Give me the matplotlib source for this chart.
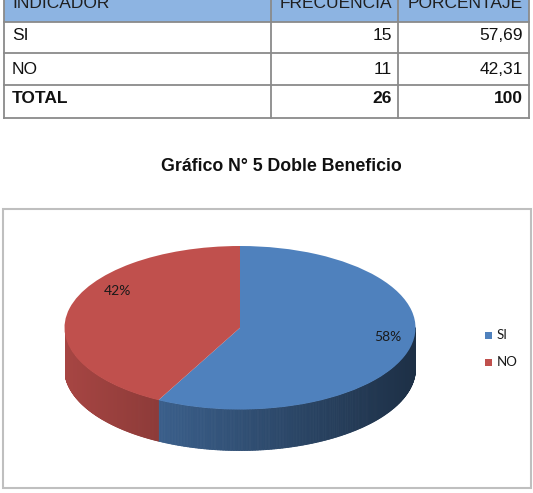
import numpy as np
import matplotlib
matplotlib.use("Agg")
import matplotlib.pyplot as plt
from matplotlib.patches import Rectangle
from matplotlib.collections import PolyCollection

# ---------------- data ----------------
headers = ["INDICADOR", "FRECUENCIA", "PORCENTAJE"]
categories = ["SI", "NO"]
frequencies = [15, 11]
percentages = ["57,69", "42,31"]
total_label = "TOTAL"
total_freq = 26
total_pct = "100"
title = "Gráfico N° 5 Doble Beneficio"
colors = ["#4F81BD", "#C0504D"]

W, H = 533, 493
fig = plt.figure(figsize=(W / 100, H / 100), dpi=100)
ax = fig.add_axes([0, 0, 1, 1])
ax.set_xlim(0, W)
ax.set_ylim(H, 0)
ax.axis("off")

# ---------------- table ----------------
tfont = ["Liberation Sans", "DejaVu Sans"]
border = "#8a8a8a"
col_x = [4, 271, 398, 529]
row_y = [-12, 22, 53, 85, 118]
ax.add_patch(Rectangle((col_x[0], row_y[0]), col_x[3] - col_x[0], row_y[1] - row_y[0],
                       facecolor="#8DB4E2", edgecolor="none", zorder=1))
for x in col_x:
    ax.plot([x, x], [row_y[0], row_y[-1]], color=border, lw=1.3, zorder=2)
for y in row_y[1:]:
    ax.plot([col_x[0], col_x[-1]], [y, y], color=border, lw=1.3, zorder=2)

fs = 12.5
baselines = [7.5, 40, 73.5, 103]
rows = [headers] + [[c, str(f), p] for c, f, p in zip(categories, frequencies, percentages)] \
       + [[total_label, str(total_freq), total_pct]]
for r, (row, yb) in enumerate(zip(rows, baselines)):
    bold = (r == len(rows) - 1)
    col = "#1f1f1f" if r == 0 else "#111111"
    ax.text(12, yb, row[0], ha="left", va="baseline", fontsize=fs, family=tfont,
            fontweight="bold" if bold else "normal", color=col)
    ax.text(392, yb, row[1], ha="right", va="baseline", fontsize=fs, family=tfont,
            fontweight="bold" if bold else "normal", color=col)
    ax.text(523, yb, row[2], ha="right", va="baseline", fontsize=fs, family=tfont,
            fontweight="bold" if bold else "normal", color=col)

# ---------------- title ----------------
ax.text(281, 171, title, ha="center", va="baseline", fontsize=12.8, fontweight="bold",
        family=tfont, color="#111111")

# ---------------- chart box ----------------
ax.add_patch(Rectangle((3, 209), 528, 279, facecolor="none", edgecolor="#BFBFBF", lw=1.5, zorder=1))

# ---------------- 3D pie ----------------
pl, pr, pt, pb = 64.5, 415.5, 246, 450.5
depth_px = 41
b_px = (pb - pt - depth_px) / 2
d = depth_px / b_px
pax = fig.add_axes([pl / W, 1 - pb / H, (pr - pl) / W, (pb - pt) / H])
wedges, _ = pax.pie(frequencies, colors=colors, startangle=90, counterclock=False,
                    radius=1, wedgeprops=dict(linewidth=0, zorder=5))
pax.set_aspect("auto")
pax.set_xlim(-1, 1)
pax.set_ylim(-1 - d, 1)
pax.axis("off")


def shade(c, cosv):
    rgb = np.array(matplotlib.colors.to_rgb(c))
    f = 0.87 - 0.25 * (cosv + 1)
    return tuple(np.clip(rgb * f, 0, 1))


for w, c in zip(wedges, colors):
    t = np.radians(np.linspace(w.theta1, w.theta2, 400))
    polys, cols = [], []
    for t0, t1 in zip(t[:-1], t[1:]):
        tm = 0.5 * (t0 + t1)
        if np.sin(tm) >= 0:
            continue
        polys.append([(np.cos(t0), np.sin(t0)), (np.cos(t1), np.sin(t1)),
                      (np.cos(t1), np.sin(t1) - d), (np.cos(t0), np.sin(t0) - d)])
        cols.append(shade(c, np.cos(tm)))
    if polys:
        pc = PolyCollection(polys, facecolors=cols, edgecolors=cols, linewidths=0.6, zorder=3)
        pax.add_collection(pc)

# percentage labels (drawn on the pie axes so they sit above the slices)
lfont = ["Lato", "DejaVu Sans"]
total = sum(frequencies)
label_pos = [(388, 337), (117, 291)]
for f, (lx, ly) in zip(frequencies, label_pos):
    pax.text(lx, ly, f"{round(f / total * 100)}%", ha="center", va="center", fontsize=10,
             family=lfont, color="#1a1a1a", zorder=10, transform=ax.transData)

# legend
leg_y = [335, 362.5]
for cat, c, ly in zip(categories, colors, leg_y):
    ax.add_patch(Rectangle((485, ly - 3.5), 7, 7, facecolor=c, edgecolor="none"))
    ax.text(497, ly, cat, ha="left", va="center", fontsize=9.5, family=lfont, color="#1a1a1a")

fig.savefig("out.png", dpi=100)
